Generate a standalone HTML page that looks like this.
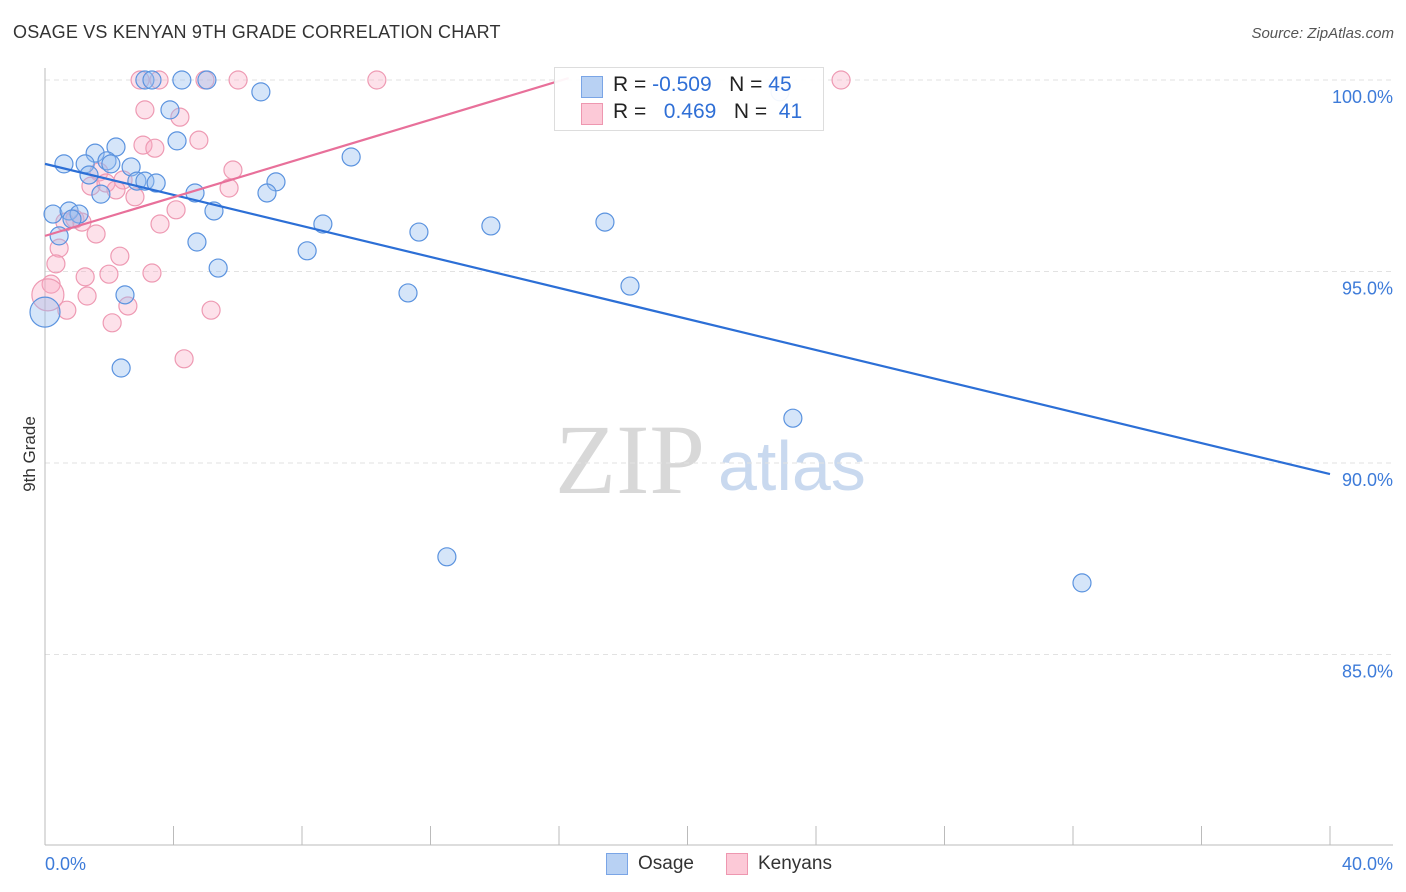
<!DOCTYPE html>
<html><head><meta charset="utf-8"><style>
body{margin:0;background:#fff;font-family:"Liberation Sans",sans-serif;}
#wrap{position:relative;width:1406px;height:892px;overflow:hidden;}
.t{position:absolute;white-space:nowrap;}
</style></head><body>
<div id="wrap">
<div class="t" style="left:13px;top:22px;font-size:18px;color:#333;letter-spacing:0.2px">OSAGE VS KENYAN 9TH GRADE CORRELATION CHART</div>
<div class="t" style="right:12px;top:25px;font-size:15px;color:#555;font-style:italic">Source: ZipAtlas.com</div>
<div class="t" style="left:-8px;top:444px;font-size:17px;color:#333;transform:rotate(-90deg);transform-origin:center">9th Grade</div>
<svg id="svg" width="1406" height="892" style="position:absolute;left:0;top:0">
<text x="555" y="493" font-family="Liberation Serif, serif" font-size="100" fill="#d8d8d8">ZIP</text>
<text x="718" y="490" font-family="Liberation Sans, sans-serif" font-size="70" fill="#c9d9ef">atlas</text>
</svg>
<div style="position:absolute;left:554px;top:67px;width:268px;height:62px;border:1px solid #ddd;background:rgba(255,255,255,0.93)">
<div style="position:absolute;left:26px;top:8px;width:20px;height:20px;background:#b8d1f3;border:1px solid #7aa5e6"></div>
<div style="position:absolute;left:26px;top:35px;width:20px;height:20px;background:#fcc9d7;border:1px solid #ee97b0"></div>
<div class="t" style="left:58px;top:5px;font-size:21px;color:#222">R = <span style="color:#2f6fd6">-0.509</span>&nbsp;&nbsp;&nbsp;N = <span style="color:#2f6fd6">45</span></div>
<div class="t" style="left:58px;top:32px;font-size:21px;color:#222">R = &nbsp;&nbsp;<span style="color:#2f6fd6">0.469</span>&nbsp;&nbsp;&nbsp;N = &nbsp;<span style="color:#2f6fd6">41</span></div>
</div>
<div style="position:absolute;left:606px;top:853px;width:20px;height:20px;background:#b8d1f3;border:1px solid #7aa5e6"></div>
<div class="t" style="left:638px;top:853px;font-size:19px;color:#333">Osage</div>
<div style="position:absolute;left:726px;top:853px;width:20px;height:20px;background:#fcc9d7;border:1px solid #ee97b0"></div>
<div class="t" style="left:758px;top:853px;font-size:19px;color:#333">Kenyans</div>
</div>
<script>
const osageX=[3.11,3.33,4.26,5.04,6.72,3.89,4.11,2.21,1.56,0.59,1.25,1.93,2.05,2.68,9.53,1.37,2.86,3.11,3.46,7.19,4.67,1.74,6.91,0.25,0.75,1.06,5.26,0.84,0.44,8.65,13.88,17.43,11.64,4.73,8.16,5.39,2.49,11.30,18.21,0,2.37,23.28,12.51,32.28,22.88];
const osageY=[100,100,100,100,99.69,99.22,98.41,98.25,98.09,97.81,97.81,97.89,97.81,97.73,97.99,97.52,97.36,97.36,97.31,97.34,97.05,97.02,97.05,96.50,96.58,96.50,96.58,96.37,95.93,96.24,96.19,96.29,96.03,95.77,95.54,95.09,94.39,94.44,94.62,93.94,92.48,91.17,87.55,86.87,99.69];
const kenX=[2.96,3.55,4.98,6.01,10.33,24.78,3.11,4.20,4.79,3.05,3.42,5.85,1.68,1.43,2.43,1.90,2.21,2.80,5.73,4.08,3.58,0.62,0.93,1.15,1.59,0.44,0.34,2.33,1.25,1.99,3.33,0.19,1.31,0.09,0.68,5.17,2.58,2.09,4.33];
const kenY=[100,100,100,100,100,100,99.22,99.03,98.43,98.30,98.22,97.65,97.60,97.23,97.39,97.31,97.13,96.95,97.18,96.61,96.24,96.29,96.37,96.29,95.98,95.61,95.20,95.40,94.86,94.93,94.96,94.67,94.36,94.39,93.99,93.99,94.10,93.66,92.72];
const osageTrend=[97.81,89.71];
const kenTrend=[95.93,100.05];
const kenTrendEndX=16.3;
const yTicks=[100,95,90,85];
const yTickLabels=["100.0%","95.0%","90.0%","85.0%"];
const xTickVals=[0,4,8,12,16,20,24,28,32,36,40];
const xLabels=["0.0%","40.0%"];
const big={osage:39,ken:33};

const X=v=>45+v*(1285/40);
const Y=v=>80+(100-v)*38.3;
const svg=document.getElementById('svg');
const NS='http://www.w3.org/2000/svg';
function mk(t,a){const e=document.createElementNS(NS,t);for(const k in a)e.setAttribute(k,a[k]);svg.appendChild(e);return e;}
yTicks.forEach((v,i)=>{
 const g=mk('line',{x1:45,x2:1393,y1:Y(v),y2:Y(v),stroke:'#e2e2e2','stroke-dasharray':'5,4'});
 
 
 const t=mk('text',{x:1393,y:Y(v)+23,'text-anchor':'end','font-size':18,fill:'#3d7bd9','font-family':'Liberation Sans, sans-serif'});
 t.textContent=yTickLabels[i];
 
 
});
const ax=mk('line',{x1:45,x2:45,y1:68,y2:845,stroke:'#bbb'});


const bx=mk('line',{x1:45,x2:1393,y1:845,y2:845,stroke:'#bbb'});


xTickVals.forEach(v=>{
 const l=mk('line',{x1:X(v),x2:X(v),y1:826,y2:845,stroke:'#bbb'});
 
 
});
[[0,'start',45],[40,'end',1393]].forEach((p,i)=>{
 const t=mk('text',{x:p[2],y:870,'text-anchor':p[1],'font-size':18,fill:'#3d7bd9','font-family':'Liberation Sans, sans-serif'});
 t.textContent=xLabels[i];
 
 
});
kenX.forEach((x,i)=>{
 const r=i===big.ken?16:9;
 const c=mk('circle',{cx:X(x),cy:Y(kenY[i]),r:r,fill:'rgba(248,170,195,0.35)',stroke:'#ee9ab3','stroke-width':1.2});
 
 
});
osageX.forEach((x,i)=>{
 const r=i===big.osage?15:9;
 const c=mk('circle',{cx:X(x),cy:Y(osageY[i]),r:r,fill:'rgba(150,190,240,0.4)',stroke:'#5b93df','stroke-width':1.2});
 
 
});
const ol=mk('line',{x1:X(0),y1:Y(osageTrend[0]),x2:X(40),y2:Y(osageTrend[1]),stroke:'#2c6fd6','stroke-width':2.2});


const kl=mk('line',{x1:X(0),y1:Y(kenTrend[0]),x2:X(kenTrendEndX),y2:Y(kenTrend[1]),stroke:'#e8709a','stroke-width':2.2});


</script>
</body></html>
